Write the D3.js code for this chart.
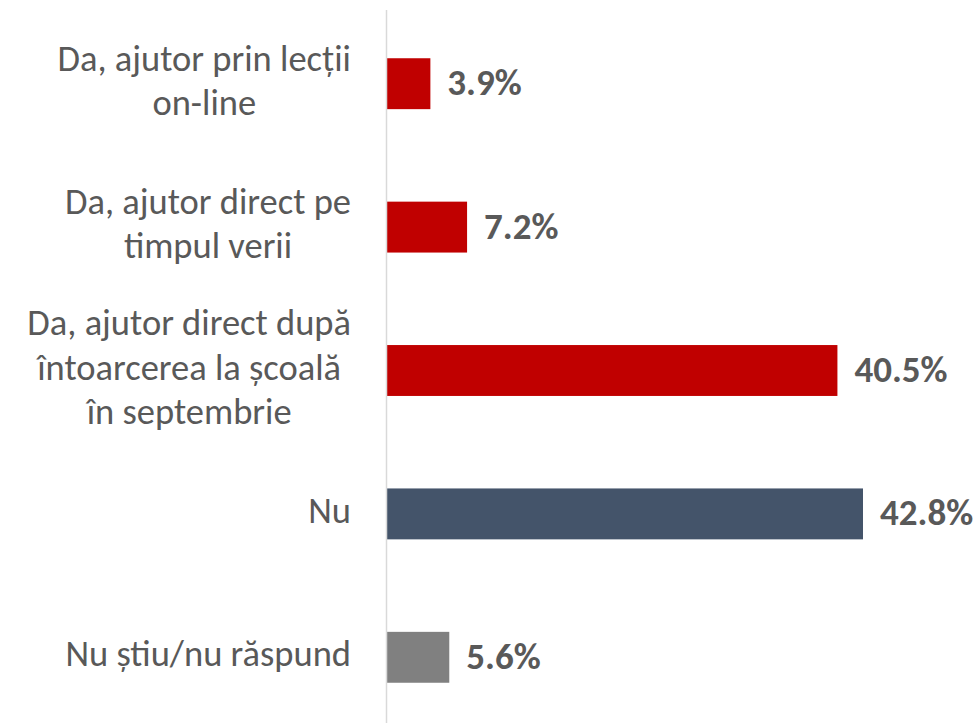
<!DOCTYPE html>
<html>
<head>
<meta charset="utf-8">
<script src="https://cdn.jsdelivr.net/npm/d3@7/dist/d3.min.js"></script>
<style>
  html, body { margin: 0; padding: 0; background: #fff; }
  svg text { font-family: Calibri, Carlito, "Open Sans", sans-serif; }
</style>
</head>
<body>
<div id="chart"></div>
<script>
var CATEGORIES = [
    'Da, ajutor prin lecții\non-line',
    'Da, ajutor direct pe\ntimpul verii',
    'Da, ajutor direct după\nîntoarcerea la școală\nîn septembrie',
    'Nu',
    'Nu știu/nu răspund'
];
var VALUES = [3.9, 7.2, 40.5, 42.8, 5.6];
var COLORS = ['#c00000', '#c00000', '#c00000', '#44546a', '#808080'];

var w = 979,
    h = 723,
    axisX = 387,
    labelRight = 351;

var svg = d3.select('#chart')
    .append('svg')
    .attr('width', w)
    .attr('height', h);

var x = d3.scaleLinear()
    .domain([0, 42.8])
    .range([axisX, 863]);

var y = d3.scaleBand()
    .domain(CATEGORIES)
    .range([12, 729])
    .paddingInner(0.645)
    .paddingOuter(0.3225);

// bars
svg.selectAll('rect.bar')
    .data(VALUES)
    .enter()
    .append('rect')
    .attr('class', 'bar')
    .attr('x', x(0))
    .attr('y', function(d, i) { return y(CATEGORIES[i]); })
    .attr('width', function(d) { return x(d) - x(0); })
    .attr('height', y.bandwidth())
    .attr('fill', function(d, i) { return COLORS[i]; });

// vertical axis line
svg.append('line')
    .attr('x1', axisX - 0.5)
    .attr('x2', axisX - 0.5)
    .attr('y1', 10)
    .attr('y2', h)
    .attr('stroke', '#d9d9d9')
    .attr('stroke-width', 1.5);

// category labels: block right-aligned, lines centred within block
var lineH = 44.5;
svg.selectAll('text.cat')
    .data(CATEGORIES)
    .enter()
    .append('text')
    .attr('class', 'cat')
    .attr('text-anchor', 'middle')
    .attr('fill', '#595959')
    .style('font-size', '36.5px')
    .each(function(d) {
        var lines = d.split('\n'),
            cy = y(d) + y.bandwidth() / 2,
            top = cy - (lines.length - 1) * lineH / 2;
        var t = d3.select(this);
        var spans = lines.map(function(l, j) {
            return t.append('tspan')
                .attr('y', top + j * lineH)
                .attr('dy', '0.25em')
                .text(l);
        });
        var maxW = d3.max(spans, function(s) { return s.node().getComputedTextLength(); });
        spans.forEach(function(s) { s.attr('x', labelRight - maxW / 2); });
    });

// value labels
svg.selectAll('text.val')
    .data(VALUES)
    .enter()
    .append('text')
    .attr('class', 'val')
    .attr('x', function(d) { return x(d) + 17; })
    .attr('y', function(d, i) { return y(CATEGORIES[i]) + y.bandwidth() / 2; })
    .attr('dy', '0.31em')
    .attr('fill', '#595959')
    .style('font-size', '37px')
    .style('font-weight', 'bold')
    .text(function(d) { return d.toFixed(1) + '%'; });
</script>
</body>
</html>
